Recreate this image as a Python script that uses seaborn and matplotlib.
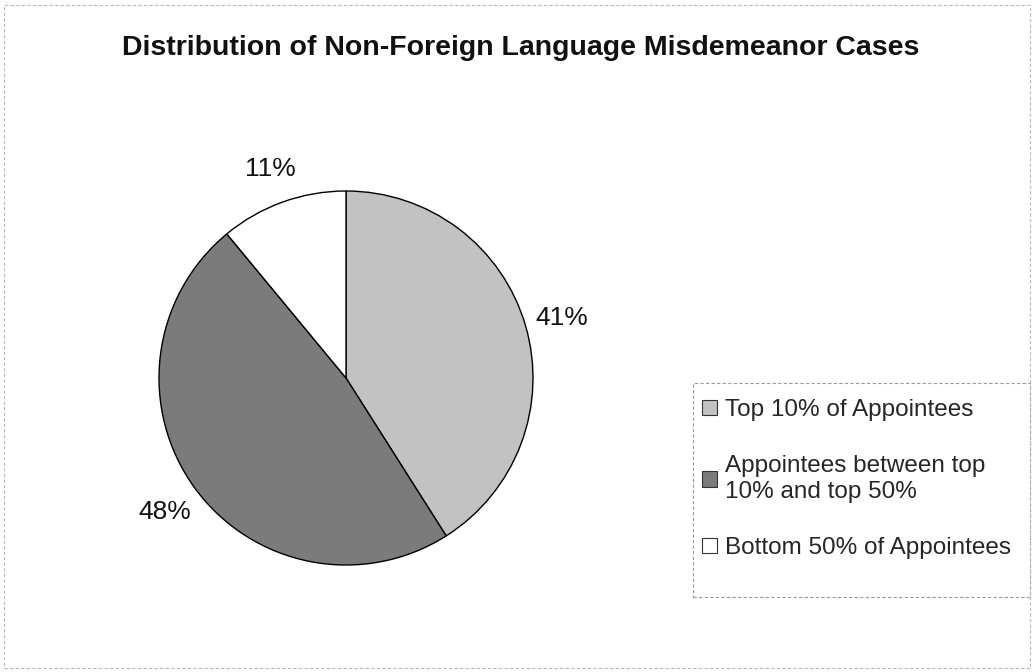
import matplotlib
matplotlib.use("Agg")
import matplotlib.pyplot as plt
from matplotlib.patches import Rectangle, Patch
import seaborn as sns

# Data
categories = ["Top 10% of Appointees",
              "Appointees between top\n10% and top 50%",
              "Bottom 50% of Appointees"]
shares = [41, 48, 11]
slice_colors = ["#c2c2c2", "#7b7b7b", "#ffffff"]

sns.set_theme(style="white")
plt.rcParams["font.family"] = ["Liberation Sans", "DejaVu Sans"]

W, H = 1033, 672
fig = plt.figure(figsize=(W / 100, H / 100), dpi=100)
fig.patch.set_facecolor("white")

# Pie axes: centre (346, 378) px, radius 187 px
cx, cy, r = 346, 378, 187
ax = fig.add_axes([(cx - r) / W, (H - cy - r) / H, 2 * r / W, 2 * r / H])
wedges, texts, autotexts = ax.pie(
    shares,
    colors=slice_colors,
    startangle=90,
    counterclock=False,
    autopct="%d%%",
    pctdistance=1.2,
    wedgeprops=dict(edgecolor="black", linewidth=1.0),
    textprops=dict(fontsize=19, color="#111111"),
)
ax.set_xlim(-1.0, 1.0)
ax.set_ylim(-1.0, 1.0)
ax.set_aspect("equal")
ax.axis("off")
for t in autotexts:
    t.set_clip_on(False)
    t.set_va("center_baseline")

fig.text(0.504, 1 - 55 / H, "Distribution of Non-Foreign Language Misdemeanor Cases",
         ha="center", va="baseline", fontsize=20.5, fontweight="bold", color="#111111")

# Legend entries (frame drawn separately as a dashed box)
handles = [Patch(facecolor=c, edgecolor="#333333", linewidth=0.8) for c in slice_colors]
leg = fig.legend(handles, categories,
                 loc="upper left", bbox_to_anchor=(702 / W, 1 - 399 / H),
                 frameon=False, fontsize=17.5,
                 handlelength=0.6, handleheight=0.6, handletextpad=0.33,
                 labelspacing=1.41, borderpad=0, borderaxespad=0)

fig.patches.append(Rectangle((693 / W, (H - 597) / H), 337 / W, 214 / H,
                             transform=fig.transFigure, fill=False,
                             edgecolor="#9a9a9a", linewidth=0.8,
                             linestyle=(0, (3, 2))))

# Light dashed outline around the whole chart area
fig.patches.append(Rectangle((0.004, 0.006), 0.993, 0.986, transform=fig.transFigure,
                             fill=False, edgecolor="#b8b8b8", linewidth=0.8,
                             linestyle=(0, (3, 2))))

fig.savefig("out.png", dpi=100, facecolor="white")
